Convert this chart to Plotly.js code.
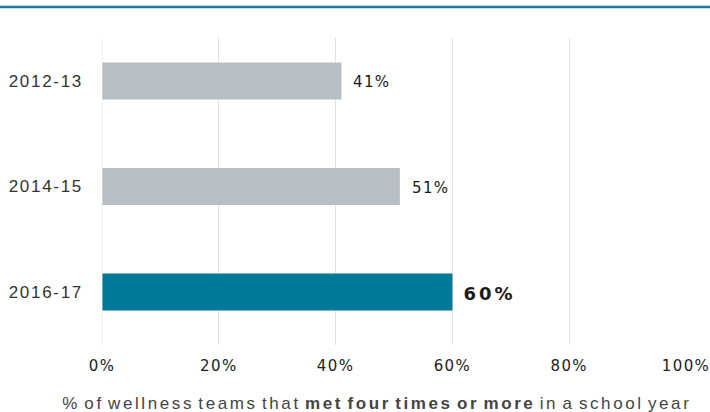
<!DOCTYPE html>
<html>
<head>
<meta charset="utf-8">
<script src="https://cdn.plot.ly/plotly-3.0.1.min.js"></script>
<style>
html,body{margin:0;padding:0;background:#fff;}
#chart{width:710px;height:412px;}
#chart .xtick text{letter-spacing:1.4px;}
#chart .ytick text{letter-spacing:1.7px;}
#chart g.annotation[data-index="0"] text{letter-spacing:2.6px;word-spacing:-3px;}
#chart g.annotation[data-index="1"] text,
#chart g.annotation[data-index="2"] text{letter-spacing:1.3px;}
#chart g.annotation[data-index="3"] text{letter-spacing:3px;}
</style>
</head>
<body>
<div id="chart"></div>
<script>
const categories = ['2012-13', '2014-15', '2016-17'];
const values = [41, 51, 60];
const barColors = ['#b7bec4', '#b7bec4', '#00799b'];
const tickVals = [0, 20, 40, 60, 80, 100];
const tickLabels = ['0%', '20%', '40%', '60%', '80%', '100%'];
const axisTitleParts = ['% of wellness teams that ', 'met four times or more', ' in a school year'];

const trace = {
  type: 'bar',
  orientation: 'h',
  y: categories,
  x: values,
  width: 0.35,
  marker: {color: barColors, line: {width: 0}},
  hoverinfo: 'none'
};

const last = values.length - 1;
const valueAnnotations = values.map((v, i) => ({
  x: v, y: categories[i], xref: 'x', yref: 'y',
  text: i === last ? '<b>' + v + '%</b>' : v + '%',
  showarrow: false, xanchor: 'left', yanchor: 'middle',
  xshift: i === last ? 14 : 12,
  yshift: -1,
  font: {family: '"DejaVu Sans", sans-serif', size: i === last ? 18 : 15, color: '#1a1a1a'}
}));

const titleAnnotation = {
  xref: 'paper', yref: 'paper', x: (377 - 102) / 584, y: (345 - 403) / 307,
  xanchor: 'center', yanchor: 'middle', showarrow: false,
  text: axisTitleParts[0] + '<b>' + axisTitleParts[1] + '</b>' + axisTitleParts[2],
  font: {family: '"Liberation Sans", Arial, sans-serif', size: 17, color: '#444'}
};

const layout = {
  width: 710, height: 412,
  margin: {l: 102, r: 24, t: 38, b: 67},
  paper_bgcolor: '#fff', plot_bgcolor: '#fff',
  showlegend: false,
  xaxis: {
    range: [0, 100], tickvals: tickVals, ticktext: tickLabels,
    showgrid: true, gridcolor: '#e2e2e2', gridwidth: 1,
    zeroline: false, showline: false, ticks: '',
    ticklabelstandoff: 10,
    tickfont: {family: '"DejaVu Sans", sans-serif', size: 15, color: '#222'},
    fixedrange: true
  },
  yaxis: {
    type: 'category', categoryorder: 'array', categoryarray: categories,
    range: [2.502, -0.408],
    showgrid: false, zeroline: false, showline: false, ticks: '',
    ticklabelstandoff: 18,
    tickfont: {family: '"Liberation Sans", Arial, sans-serif', size: 17, color: '#333'},
    fixedrange: true
  },
  shapes: [
    {type: 'line', xref: 'paper', yref: 'paper', x0: -102/584, x1: 608/584,
     y0: (345 - 7) / 307, y1: (345 - 7) / 307,
     line: {color: '#1a7aa0', width: 2.5}},
    {type: 'line', xref: 'x', yref: 'paper', x0: 0, x1: 0, y0: 0, y1: 1,
     line: {color: '#e2e2e2', width: 1}}
  ],
  annotations: [titleAnnotation].concat(valueAnnotations)
};

Plotly.newPlot('chart', [trace], layout, {displayModeBar: false, staticPlot: true});
</script>
</body>
</html>
